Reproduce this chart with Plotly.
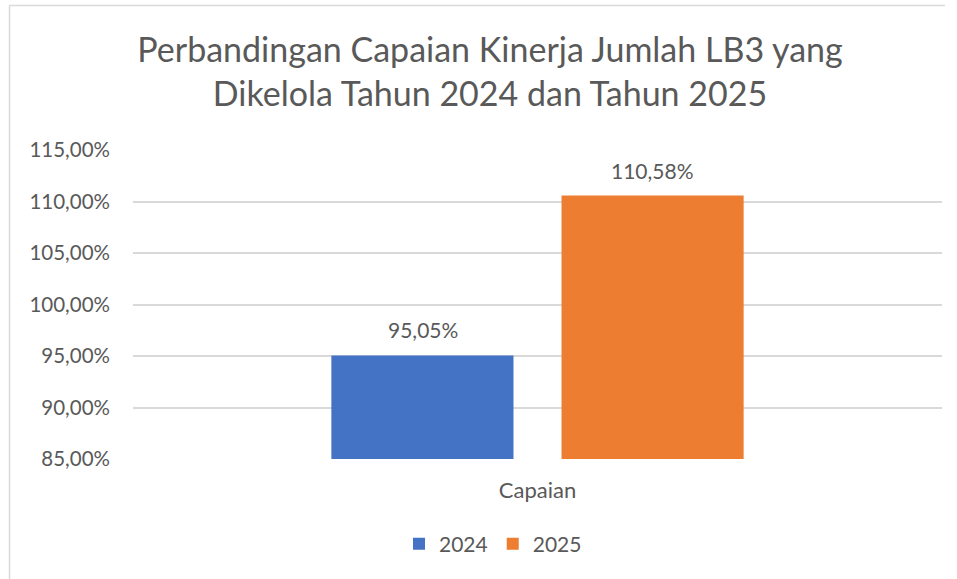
import plotly.graph_objects as go

categories = ["Capaian"]
series_names = ["2024", "2025"]
values_2024 = [95.05]
values_2025 = [110.58]
colors = ["#4472C4", "#ED7D31"]
title_text = "Perbandingan Capaian Kinerja Jumlah LB3 yang<br>Dikelola Tahun 2024 dan Tahun 2025"

W, H = 957, 579
L, R, T, B = 133, 15, 150, 120
pw, ph = W - L - R, H - T - B

def px(p):
    return (p - L) / pw

def py(q):
    return (H - B - q) / ph

font = "Lato, 'Open Sans', sans-serif"
grey = "#595959"

fig = go.Figure()
all_vals = [values_2024, values_2025]
offsets = [-115, 115]
for name, vals, col in zip(series_names, all_vals, colors):
    fig.add_trace(go.Bar(
        x=categories, y=vals, name=name, marker=dict(color=col, line=dict(width=0)),
    ))

annotations = []
for vals, off in zip(all_vals, offsets):
    for c, v in zip(categories, vals):
        annotations.append(dict(
            x=c, y=v, xref="x", yref="y", text=f"{v:.2f}%".replace(".", ","),
            showarrow=False, xshift=off, yanchor="bottom", yshift=11,
            font=dict(family=font, size=21, color=grey),
        ))

fig.update_layout(
    width=W, height=H,
    margin=dict(l=L, r=R, t=T, b=B),
    paper_bgcolor="white", plot_bgcolor="white",
    separators=",.",
    barmode="group", bargap=0.431, bargroupgap=0.2087,
    title=dict(text=title_text, x=px(490), xref="paper", xanchor="center",
               y=1 - 62 / H, yref="container", yanchor="middle",
               font=dict(family=font, size=34, color=grey)),
    font=dict(family=font, color=grey),
    showlegend=True,
    legend=dict(orientation="h", x=px(493), xanchor="center", y=py(544), yanchor="middle",
                font=dict(family=font, size=21, color=grey), itemsizing="constant",
                traceorder="normal", itemwidth=30),
    xaxis=dict(showgrid=False, showline=False, ticks="", tickfont=dict(family=font, size=22, color=grey),
               ticklabelstandoff=16),
    yaxis=dict(range=[85, 115], dtick=5, tick0=85, tickformat=".2f", ticksuffix="%",
               showgrid=True, gridcolor="#D9D9D9", gridwidth=1.5, zeroline=False, showline=False,
               ticks="", tickfont=dict(family=font, size=20.5, color=grey), ticklabelstandoff=22),
    annotations=annotations,
    shapes=[
        dict(type="line", xref="paper", yref="paper", x0=px(9.5), x1=px(945), y0=py(5.5), y1=py(5.5),
             line=dict(color="#D9D9D9", width=1.5)),
        dict(type="line", xref="paper", yref="paper", x0=px(9.5), x1=px(9.5), y0=py(5.5), y1=py(585),
             line=dict(color="#D9D9D9", width=1.5)),
    ],
)

fig.write_html("out.html", config={"displayModeBar": False},
               post_script="document.body.style.margin='0';document.body.style.overflow='hidden';")
